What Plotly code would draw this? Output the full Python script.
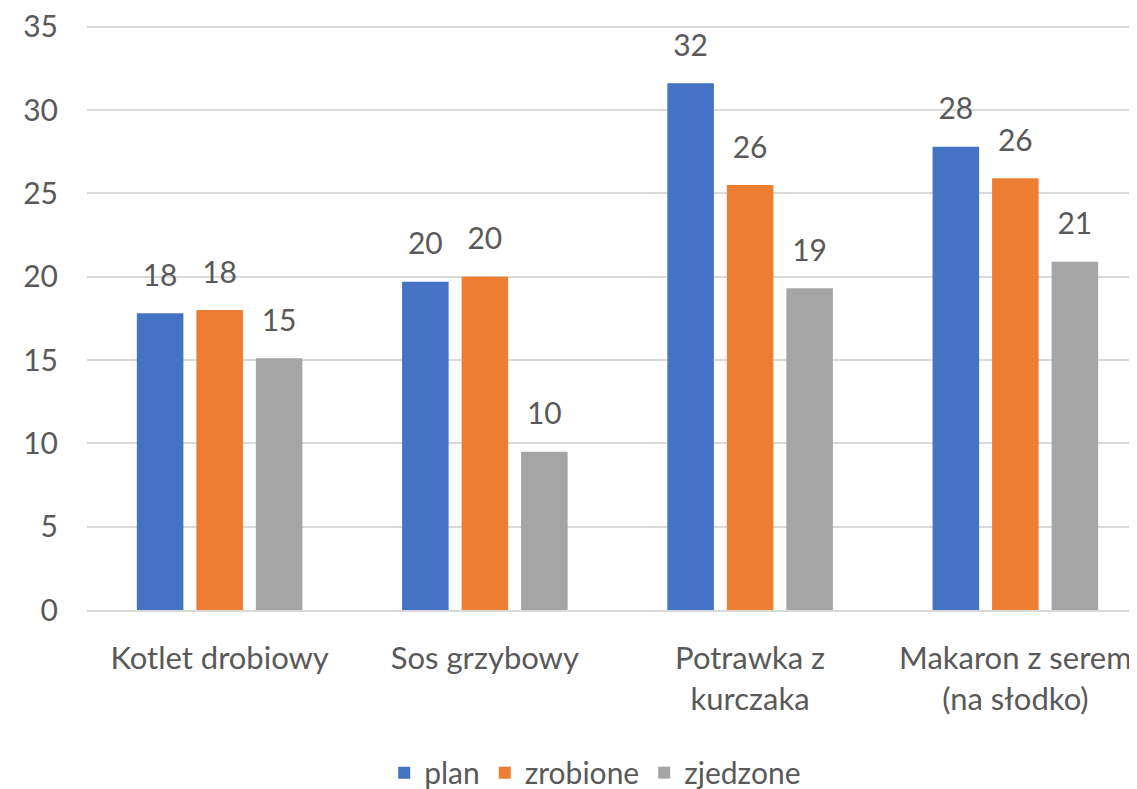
import plotly.graph_objects as go

categories = ["Kotlet drobiowy", "Sos grzybowy", "Potrawka z<br>kurczaka", "Makaron z serem<br>(na słodko)"]
series_names = ["plan", "zrobione", "zjedzone"]
plan = [17.8, 19.7, 31.6, 27.8]
zrobione = [18.0, 20.0, 25.5, 25.9]
zjedzone = [15.1, 9.5, 19.3, 20.9]
colors = ["#4472C4", "#ED7D31", "#A5A5A5"]
y_ticks = [0, 5, 10, 15, 20, 25, 30, 35]

FONT = "Lato"
TXT = "#595959"

fig = go.Figure()
for name, vals, col in zip(series_names, [plan, zrobione, zjedzone], colors):
    fig.add_trace(go.Bar(x=categories, y=vals, name=name, marker_color=col,
                         marker_line_width=0))
for name, vals in zip(series_names, [plan, zrobione, zjedzone]):
    fig.add_trace(go.Scatter(x=categories, y=vals, mode="markers+text",
                             text=[f"{v:.0f}" for v in vals],
                             textposition="top center",
                             textfont=dict(family=FONT, size=30, color=TXT),
                             marker=dict(size=30, opacity=0),
                             showlegend=False, hoverinfo="skip", cliponaxis=False))

fig.update_layout(
    width=1137, height=789,
    margin=dict(l=79, r=8, t=17, b=187, autoexpand=False),
    paper_bgcolor="white", plot_bgcolor="white",
    barmode="group", bargap=0.327, bargroupgap=0.218,
    scattermode="group", scattergap=0.327,
    font=dict(family=FONT, size=30, color=TXT),
    legend=dict(orientation="h", x=0.484, xanchor="center",
                y=-0.278, yanchor="middle", font=dict(family=FONT, size=30, color=TXT),
                itemwidth=30, tracegroupgap=0),
    xaxis=dict(type="category", range=[-0.5, 3.4586], showgrid=False,
               showline=True, linecolor="#D9D9D9", linewidth=2, ticks="",
               tickangle=0, automargin=False, ticklabelstandoff=20,
               ticklabeloverflow="allow",
               tickfont=dict(family=FONT, size=31, color=TXT), fixedrange=True),
    yaxis=dict(range=[0, 35.1], tickvals=y_ticks, showgrid=True, gridcolor="#D9D9D9",
               gridwidth=2, zeroline=False, showline=False, ticks="",
               ticklabelstandoff=28, automargin=False, ticklabeloverflow="allow",
               tickfont=dict(family=FONT, size=30, color=TXT)),
)

fig.write_html("out.html")
